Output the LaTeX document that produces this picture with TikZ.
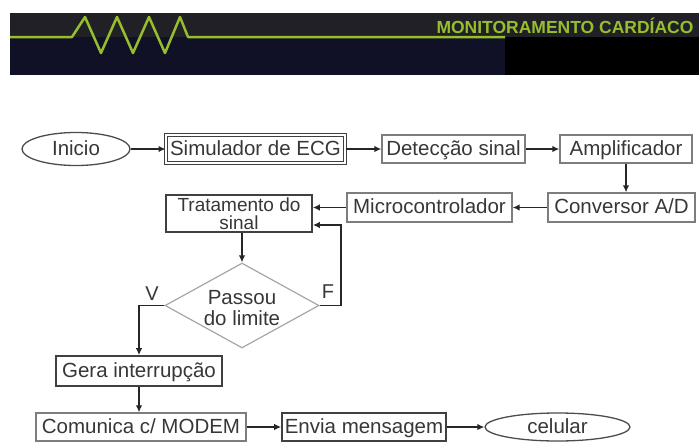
\documentclass[tikz,border=0pt]{standalone}
\usepackage{fontspec}
\setmainfont{Liberation Sans}
\usetikzlibrary{shapes.geometric,arrows.meta,calc}
\definecolor{ecggreen}{RGB}{150,190,45}
\definecolor{bandgray}{RGB}{32,32,38}
\definecolor{bandnavy}{RGB}{16,16,38}
\definecolor{boxline}{RGB}{125,125,125}
\definecolor{txtgray}{RGB}{55,55,55}
\tikzset{
  % caixas do fluxograma
  blk/.style={draw=boxline, line width=1.3pt, inner sep=0pt,
    minimum height=28pt, text height=15pt, text depth=3pt,
    font=\fontsize{20.5}{17}\selectfont, text=txtgray},
  blkdark/.style={blk, draw=black!75, line width=1.6pt},
  term/.style={blk, ellipse, draw=black!70},
  % setas e linhas de ligacao
  seta/.style={line width=1.5pt, draw=black!85, -{Latex[length=7pt,width=6.5pt]}},
  rotulo/.style={font=\fontsize{20}{20}\selectfont, text=txtgray},
}

\begin{document}
\begin{tikzpicture}[x=1pt,y=-1pt]
    \useasboundingbox (0,0) rectangle (699,442);
    % faixa do titulo
    \fill[bandgray] (10,13) rectangle (699,37);
    \fill[bandnavy] (10,37) rectangle (505,75);
    \fill[black] (505,37) rectangle (699,75);
    \draw[ecggreen, line width=2.5pt, line join=round]
      (10,37) -- (72,37) -- (85,17) -- (101,53) -- (117,17) -- (133,53)
      -- (149,17) -- (165,53) -- (180,17) -- (188,37) -- (505,37);
    \node[font=\bfseries\fontsize{17.5}{17.5}\selectfont, text=ecggreen,
      text height=12.5pt, text depth=0pt, inner sep=0pt] (titulo) at (565,27.5)
      {MONITORAMENTO CARDÍACO};

    % fluxograma
    \node[term, minimum width=108pt, minimum height=33pt] (ini) at (76,149) {Inicio};
    \node[blkdark, double=white, double distance=1.2pt, line width=1pt,
      minimum width=179pt] (sim) at (255.5,149) {Simulador de ECG};
    \node[blk, minimum width=143pt] (det) at (453.5,149) {Detecção sinal};
    \node[blk, minimum width=132pt] (amp) at (626,149) {Amplificador};
    \node[blk, minimum width=147pt, minimum height=29pt] (conv) at (621.5,207.5) {Conversor A/D};
    \node[blk, minimum width=165pt, minimum height=29pt] (mic) at (429.5,207.5) {Microcontrolador};
    \node[blkdark, minimum width=146pt, minimum height=37pt, text height=, text depth=,
      align=center, font=\fontsize{19}{17.5}\selectfont] (trat) at (239,213.5)
      {Tratamento do\\sinal};
    \node[diamond, draw=black!35, line width=1.2pt, inner sep=0pt,
      minimum width=154pt, minimum height=85pt] (dec) at (242,305.5) {};
    \node[rotulo, align=center, font=\fontsize{20.5}{21}\selectfont] (dectxt) at (242,308)
      {Passou\\do limite};
    \node[rotulo] (lv) at (152,294) {V};
    \node[rotulo] (lf) at (328,292) {F};
    \node[blkdark, minimum width=166pt, minimum height=30pt] (gera) at (139,371) {Gera interrupção};
    \node[blk, minimum width=210pt] (com) at (141,427) {Comunica c/ MODEM};
    \node[blkdark, minimum width=164pt] (env) at (364,427) {Envia mensagem};
    \node[term, minimum width=145pt, minimum height=28pt] (cel) at (557.5,427) {celular};

    \coordinate (fcanto) at (341,225);
    \begin{scope}
    \draw[seta] (ini) -- (sim);
    \draw[seta] (sim) -- (det);
    \draw[seta] (det) -- (amp);
    \draw[seta] (amp.south) -- (amp.south |- conv.north);
    \draw[seta] (conv) -- (mic);
    \draw[seta] (mic.west) -- (mic.west -| trat.east);
    \draw[seta] (dec.north |- trat.south) -- (dec.north);
    \draw[seta] (dec.east) -| (fcanto) -- (fcanto -| trat.east);
    \draw[seta] (dec.west) -| (gera.north);
    \draw[seta] (gera.south) -- (gera.south |- com.north);
    \draw[seta] (com) -- (env);
    \draw[seta] (env) -- (cel);
    \end{scope}
\end{tikzpicture}
\end{document}
